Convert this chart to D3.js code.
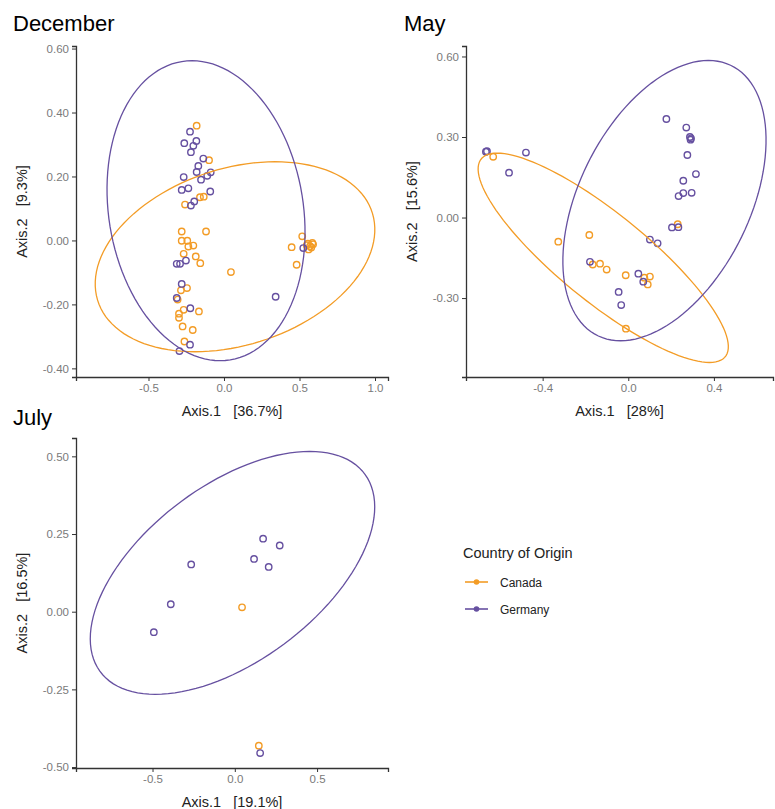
<!DOCTYPE html>
<html>
<head>
<meta charset="utf-8">
<script src="https://cdn.jsdelivr.net/npm/d3@7"></script>
<style>
  body { margin: 0; background: #fff; }
  svg { font-family: "Liberation Sans", Arial, sans-serif; }
  svg text { white-space: pre; }
</style>
</head>
<body>
<div id="chart"></div>
<script>
const groups = ["Canada", "Germany"];
const groupColors = ["#F39C26", "#6650A0"];

// December
const decCanada = [
  [-0.181, 0.359], [-0.099, 0.251], [-0.159, 0.135], [-0.134, 0.137], [-0.258, 0.112],
  [-0.280, 0.028], [-0.119, 0.028], [-0.280, -0.001], [-0.243, -0.001], [-0.203, -0.016],
  [-0.236, -0.019], [-0.267, -0.042], [-0.187, -0.050], [-0.157, -0.071], [0.046, -0.099],
  [-0.245, -0.149], [-0.285, -0.156], [-0.307, -0.185], [-0.267, -0.217], [-0.166, -0.222],
  [-0.298, -0.229], [-0.298, -0.242], [-0.274, -0.269], [-0.207, -0.280], [-0.262, -0.316],
  [0.518, 0.013], [0.448, -0.021], [0.481, -0.076], [0.555, -0.010], [0.570, -0.018],
  [0.585, -0.008], [0.560, -0.028], [0.548, -0.015], [0.578, -0.022], [0.590, -0.012]
];
const decGermany = [
  [-0.225, 0.340], [-0.263, 0.304], [-0.183, 0.311], [-0.203, 0.296], [-0.219, 0.276],
  [-0.137, 0.256], [-0.170, 0.233], [-0.181, 0.214], [-0.088, 0.213], [-0.111, 0.202],
  [-0.267, 0.198], [-0.152, 0.190], [-0.280, 0.158], [-0.236, 0.163], [-0.091, 0.153],
  [-0.197, 0.122], [-0.219, 0.109], [-0.313, -0.073], [-0.291, -0.073], [-0.252, -0.063],
  [-0.280, -0.136], [-0.313, -0.180], [-0.223, -0.212], [-0.225, -0.326], [-0.295, -0.346],
  [0.525, -0.024], [0.342, -0.176]
];
// ellipse: centre, first semi-diameter (ux, uy), horizontal conjugate semi-diameter vx
const decEllipses = [
  {group: "Canada", cx: 0.073, cy: -0.051, ux: 0.265, uy: 0.297, vx: 0.887},
  {group: "Germany", cx: -0.119, cy: 0.093, ux: -0.093, uy: 0.469, vx: 0.649}
];

// May
const mayCanada = [
  [-0.631, 0.226], [0.231, -0.025], [-0.327, -0.090], [-0.182, -0.065], [-0.166, -0.175],
  [-0.132, -0.172], [-0.101, -0.194], [-0.012, -0.215], [0.075, -0.224], [0.101, -0.220],
  [0.091, -0.249], [-0.011, -0.414]
];
const mayGermany = [
  [-0.665, 0.245], [-0.660, 0.247], [-0.478, 0.242], [-0.557, 0.167], [0.178, 0.367],
  [0.271, 0.335], [0.288, 0.300], [0.293, 0.295], [0.291, 0.290], [0.276, 0.233],
  [0.316, 0.162], [0.257, 0.137], [0.235, 0.080], [0.257, 0.091], [0.296, 0.092],
  [0.204, -0.037], [0.234, -0.036], [0.101, -0.082], [0.137, -0.096], [-0.179, -0.165],
  [0.047, -0.209], [0.070, -0.239], [-0.045, -0.277], [-0.033, -0.326]
];
const mayEllipses = [
  {group: "Canada", cx: -0.117, cy: -0.150, ux: -0.496, uy: 0.390, vx: 0.309},
  {group: "Germany", cx: 0.169, cy: 0.063, ux: 0.205, uy: 0.522, vx: 0.428}
];

// July
const julCanada = [[0.044, 0.014], [0.146, -0.431]];
const julGermany = [
  [0.172, 0.235], [0.273, 0.213], [0.117, 0.170], [0.206, 0.144], [-0.265, 0.152],
  [-0.389, 0.024], [-0.492, -0.066], [0.154, -0.455]
];
const julEllipses = [
  {group: "Germany", cx: -0.014, cy: 0.125, ux: 0.469, uy: 0.391, vx: 0.726}
];

const panels = [
  {title: "December", canada: decCanada, germany: decGermany, ellipses: decEllipses,
   xDomain: [-0.98, 1.086], yDomain: [-0.427, 0.608],
   xTicks: [-0.5, 0, 0.5, 1.0], yTicks: [-0.4, -0.2, 0, 0.2, 0.4, 0.6], yFmt: ".2f",
   xLabel: "Axis.1   [36.7%]", yLabel: "Axis.2   [9.3%]",
   left: 76, right: 388, top: 46, bottom: 377, titleX: 13, titleY: 31},
  {title: "May", canada: mayCanada, germany: mayGermany, ellipses: mayEllipses,
   xDomain: [-0.758, 0.676], yDomain: [-0.594, 0.639],
   xTicks: [-0.4, 0, 0.4], yTicks: [-0.3, 0, 0.3, 0.6], yFmt: ".2f",
   xLabel: "Axis.1   [28%]", yLabel: "Axis.2   [15.6%]",
   left: 466, right: 773, top: 46, bottom: 377, titleX: 404, titleY: 31},
  {title: "July", canada: julCanada, germany: julGermany, ellipses: julEllipses,
   xDomain: [-0.965, 0.931], yDomain: [-0.503, 0.559],
   xTicks: [-0.5, 0, 0.5], yTicks: [-0.5, -0.25, 0, 0.25, 0.5], yFmt: ".2f",
   xLabel: "Axis.1   [19.1%]", yLabel: "Axis.2   [16.5%]",
   left: 76, right: 388, top: 438, bottom: 768, titleX: 13, titleY: 425}
];

const width = 775, height = 809;
const color = d3.scaleOrdinal().domain(groups).range(groupColors);
const fmt = f => d => d3.format(f)(d).replace("\u2212", "-");

const svg = d3.select("#chart").append("svg")
  .attr("width", width)
  .attr("height", height);

panels.forEach(p => {
  const x = d3.scaleLinear().domain(p.xDomain).range([p.left, p.right]);
  const y = d3.scaleLinear().domain(p.yDomain).range([p.bottom, p.top]);
  const g = svg.append("g");

  g.append("text")
    .attr("x", p.titleX)
    .attr("y", p.titleY)
    .attr("font-size", 22)
    .attr("fill", "#000")
    .text(p.title);

  // points
  [["Canada", p.canada], ["Germany", p.germany]].forEach(([name, pts]) => {
    g.append("g")
      .selectAll()
      .data(pts)
      .join("circle")
        .attr("cx", d => x(d[0]))
        .attr("cy", d => y(d[1]))
        .attr("r", 3.2)
        .attr("fill", "none")
        .attr("stroke", color(name))
        .attr("stroke-width", 1.4);
  });

  // ellipses
  const line = d3.line().x(d => x(d[0])).y(d => y(d[1]));
  g.append("g")
    .selectAll()
    .data(p.ellipses)
    .join("path")
      .attr("d", e => line(d3.range(0, 361, 3).map(a => {
        const t = a * Math.PI / 180;
        return [e.cx + e.ux * Math.cos(t) + e.vx * Math.sin(t), e.cy + e.uy * Math.cos(t)];
      })))
      .attr("fill", "none")
      .attr("stroke", e => color(e.group))
      .attr("stroke-width", 1.3);

  // axes
  const xAxis = g.append("g")
    .attr("transform", `translate(0,${p.bottom})`)
    .call(d3.axisBottom(x).tickValues(p.xTicks).tickFormat(fmt(".1f")).tickSizeOuter(0).tickSize(4).tickPadding(3));
  const yAxis = g.append("g")
    .attr("transform", `translate(${p.left},0)`)
    .call(d3.axisLeft(y).tickValues(p.yTicks).tickFormat(fmt(p.yFmt)).tickSizeOuter(0).tickSize(4).tickPadding(3));
  [xAxis, yAxis].forEach(a => {
    a.select(".domain").attr("stroke", "#333").attr("stroke-width", 1.3);
    a.selectAll(".tick line").attr("stroke", "#333");
    a.selectAll(".tick text")
      .attr("fill", "#7a7a7a")
      .attr("font-size", 11.5)
      .attr("font-family", "Liberation Sans, Arial, sans-serif");
  });

  g.append("text")
    .attr("x", (p.left + p.right) / 2)
    .attr("y", p.bottom + 39)
    .attr("text-anchor", "middle")
    .attr("font-size", 14.5)
    .attr("fill", "#222")
    .text(p.xLabel);

  g.append("text")
    .attr("transform", `translate(${p.left - 49},${(p.top + p.bottom) / 2}) rotate(-90)`)
    .attr("text-anchor", "middle")
    .attr("font-size", 14.5)
    .attr("fill", "#222")
    .text(p.yLabel);
});

// legend
const legend = svg.append("g").attr("transform", "translate(463,0)");
legend.append("text")
  .attr("x", 0)
  .attr("y", 558)
  .attr("font-size", 14.5)
  .attr("fill", "#222")
  .text("Country of Origin");
groups.forEach((name, i) => {
  const ly = 582 + i * 27;
  legend.append("line")
    .attr("x1", 2).attr("x2", 25)
    .attr("y1", ly).attr("y2", ly)
    .attr("stroke", color(name))
    .attr("stroke-width", 1.6);
  legend.append("circle")
    .attr("cx", 13.5).attr("cy", ly)
    .attr("r", 2.8)
    .attr("fill", color(name));
  legend.append("text")
    .attr("x", 37)
    .attr("y", ly + 4.5)
    .attr("font-size", 12)
    .attr("fill", "#222")
    .text(name);
});
</script>
</body>
</html>
